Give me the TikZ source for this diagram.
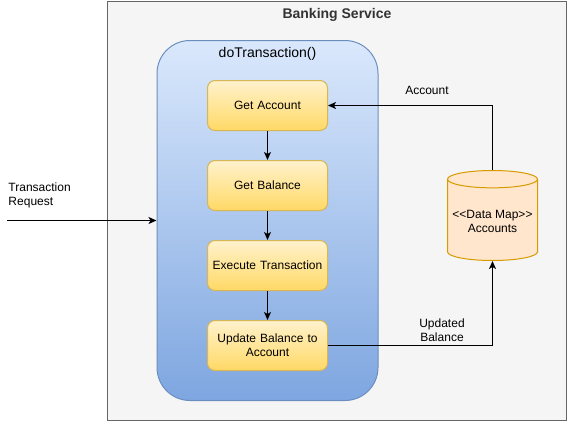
\documentclass[tikz,border=0pt]{standalone}
\usepackage{fontspec}
\setmainfont{Liberation Sans}
\usetikzlibrary{arrows.meta,shapes.geometric}
\definecolor{svcfill}{HTML}{F5F5F5}
\definecolor{svcline}{HTML}{666666}
\definecolor{svctext}{HTML}{333333}
\definecolor{txntop}{HTML}{DAE8FC}
\definecolor{txnbot}{HTML}{7EA6E0}
\definecolor{txnline}{HTML}{6C8EBF}
\definecolor{optop}{HTML}{FFF2CC}
\definecolor{opbot}{HTML}{FFD966}
\definecolor{opline}{HTML}{D6B656}
\definecolor{dbfill}{HTML}{FFE6CC}
\definecolor{dbline}{HTML}{D79B00}
\begin{document}
\begin{tikzpicture}[x=1pt,y=-1pt,line width=1pt,
	opbox/.style={draw=opline,top color=optop,bottom color=opbot,rounded corners=7.5pt,
		minimum width=120pt,minimum height=50pt,text width=112pt,align=center,
		font=\fontsize{12}{14}\selectfont},
	lbl/.style={inner sep=0pt,align=center,font=\fontsize{12}{14}\selectfont},
	flow/.style={-{Stealth[length=8pt,width=7pt,inset=2pt]}}]
		\useasboundingbox (0,0) rectangle (568,421);
		\node[draw=svcline,fill=svcfill,minimum width=459pt,minimum height=419pt,inner sep=0pt] (svc) at (337,210.5) {};
		\node[text=svctext,font=\bfseries\fontsize{14}{16}\selectfont] (svctitle) at (337,15) {Banking Service};
		\node[draw=txnline,top color=txntop,bottom color=txnbot,rounded corners=33pt,
			minimum width=221pt,minimum height=360pt,inner sep=0pt] (txn) at (267.5,220.5) {};
		\node[font=\fontsize{14}{16}\selectfont] (txntitle) at (267.5,54) {doTransaction()};
		\node[opbox] (getacc) at (267.5,105.5) {Get Account};
		\node[opbox] (getbal) at (267.5,185.5) {Get Balance};
		\node[opbox] (exec) at (267.5,265.5) {Execute Transaction};
		\node[opbox] (update) at (267.5,345.5) {Update Balance to\\Account};
		\node[cylinder,shape border rotate=90,aspect=0.2,draw=dbline,fill=dbfill,anchor=shape center,
			minimum width=90pt,minimum height=90pt,align=center,
			font=\fontsize{12}{14}\selectfont] (accounts) at (492.5,215.5) {<\kern0pt<Data Map>\kern0pt>\\Accounts};
		\coordinate (reqin) at (7,220.5);
		\node[lbl,anchor=west,align=left] (reqlbl) at (8,195) {Transaction\\Request};
		\node[lbl] (acclbl) at (427,90) {Account};
		\node[lbl] (updlbl) at (442,330) {Updated\\Balance};
		\draw[flow] (reqin) -- (txn.west);
		\draw[flow] (getacc) -- (getbal);
		\draw[flow] (getbal) -- (exec);
		\draw[flow] (exec) -- (update);
		\draw[flow] (accounts.north) |- (getacc.east);
		\draw[flow] (update.east) -| (accounts.south);
	\end{tikzpicture}
\end{document}
